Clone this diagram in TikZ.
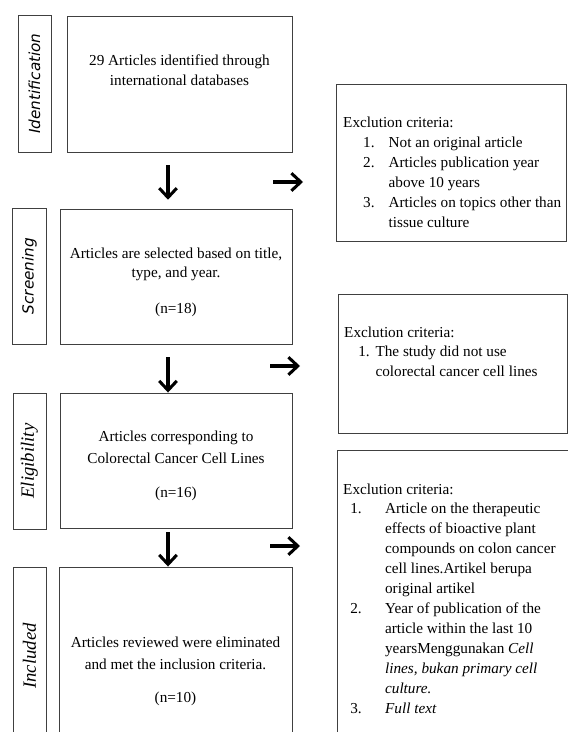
\documentclass[tikz,border=0pt]{standalone}
\usepackage{fontspec}
\setmainfont{Liberation Serif}
\newfontfamily\stagesans{DejaVu Sans}
\usetikzlibrary{arrows.meta}

\begin{document}
\begin{tikzpicture}[x=0.03cm, y=-0.03cm,
  box/.style={draw=black!75, line width=0.8pt, inner sep=0pt},
  txt/.style={inner sep=0pt, font=\fontsize{13}{17}\selectfont},
  stagesf/.style={inner sep=0pt, rotate=90, font=\stagesans\itshape\fontsize{13}{15}\selectfont},
  stagerm/.style={inner sep=0pt, rotate=90, font=\itshape\fontsize{16}{18}\selectfont},
  flow/.style={line width=2.8pt, -{Straight Barb[length=8pt, width=15pt, line width=2.6pt]}}]
\useasboundingbox (0,0) rectangle (568,732);
% stage labels on the left
\node[box, minimum width=0.99cm, minimum height=4.11cm] (stid) at (34.5,83.5) {};
\node[stagesf] (stidtxt) at (stid) {Identification};
\node[box, minimum width=1.0cm, minimum height=4.08cm] (stscr) at (29.5,276) {};
\node[stagesf] (stscrtxt) at (stscr) {Screening};
\node[box, minimum width=0.99cm, minimum height=4.08cm] (stel) at (29.5,461) {};
\node[stagerm] (steltxt) at (stel) {Eligibility};
\node[box, minimum width=0.99cm, minimum height=5.34cm] (stin) at (29.5,656) {};
\node[stagerm] (stintxt) at (stin) {Included};
% main flow boxes
\node[box, minimum width=6.75cm, minimum height=4.08cm] (ident) at (179.5,84) {};
\node[txt, anchor=base] (identtxt) at (179.5,66) {\begin{tabular}[t]{@{}c@{}}
  29 Articles identified through\\ international databases\end{tabular}};
\node[box, minimum width=6.96cm, minimum height=4.05cm] (scr) at (176,276.5) {};
\node[txt, anchor=base] (scrtxt) at (176,258) {\begin{tabular}[t]{@{}c@{}}
  Articles are selected based on title,\\ type, and year.\\[13pt] (n=18)\end{tabular}};
\node[box, minimum width=6.96cm, minimum height=4.05cm] (elig) at (176,460.5) {};
\node[txt, anchor=base] (eligtxt) at (176,441) {\begin{tabular}[t]{@{}c@{}}
  Articles corresponding to\\[2pt] Colorectal Cancer Cell Lines\\[12pt] (n=16)\end{tabular}};
\node[box, minimum width=6.99cm, minimum height=5.34cm] (incl) at (175.5,656) {};
\node[txt, anchor=base] (incltxt) at (175.5,647) {\begin{tabular}[t]{@{}c@{}}
  Articles reviewed were eliminated\\[2.5pt] and met the inclusion criteria.\\[11pt] (n=10)\end{tabular}};
% exclusion boxes on the right
\node[box, minimum width=6.9cm, minimum height=4.71cm] (exone) at (451,162.5) {};
\node[txt, anchor=base west] (exonetxt) at (343,128) {\begin{tabular}[t]{@{\hspace{17pt}}l@{\hspace{12pt}}l@{}}
  \multicolumn{2}{@{}l@{}}{Exclution criteria:}\\
  1. & Not an original article\\
  2. & Articles publication year\\
     & above 10 years\\
  3. & Articles on topics other than\\
     & tissue culture\end{tabular}};
\node[box, minimum width=6.87cm, minimum height=4.17cm] (extwo) at (452.5,363.5) {};
\node[txt, anchor=base west] (extwotxt) at (344,337) {\begin{tabular}[t]{@{\hspace{12pt}}l@{\hspace{5pt}}l@{}}
  \multicolumn{2}{@{}l@{}}{Exclution criteria:}\\
  1. & The study did not use\\
     & colorectal cancer cell lines\end{tabular}};
\node[box, minimum width=7.14cm, minimum height=8.85cm] (exthree) at (456,597.5) {};
\node[txt, anchor=base west] (exthreetxt) at (343,494) {\begin{tabular}[t]{@{\hspace{6pt}}l@{\hspace{20pt}}l@{}}
  \multicolumn{2}{@{}l@{}}{Exclution criteria:}\\
  1. & Article on the therapeutic\\
     & effects of bioactive plant\\
     & compounds on colon cancer\\
     & cell lines.Artikel berupa\\
     & original artikel\\
  2. & Year of publication of the\\
     & article within the last 10\\
     & yearsMenggunakan \textit{Cell}\\
     & \textit{lines, bukan primary cell}\\
     & \textit{culture.}\\
  3. & \textit{Full text}\end{tabular}};
% arrows
\coordinate (dn1) at (168,165);
\coordinate (dn2) at (168,357);
\coordinate (dn3) at (168,532);
\draw[flow, shorten >=7.5pt] (dn1) -- (dn1 |- scr.north);
\draw[flow] (dn2) -- (dn2 |- elig.north);
\draw[flow] (dn3) -- (dn3 |- incl.north);
\coordinate (rt1) at (273,182);
\coordinate (rt1e) at (303,182);
\coordinate (rt2) at (270,366);
\coordinate (rt2e) at (300,366);
\coordinate (rt3) at (270,546);
\coordinate (rt3e) at (300,546);
\draw[flow] (rt1) -- (rt1e);
\draw[flow] (rt2) -- (rt2e);
\draw[flow] (rt3) -- (rt3e);
\end{tikzpicture}
\end{document}
